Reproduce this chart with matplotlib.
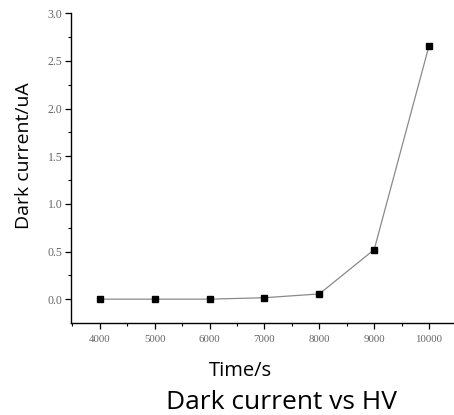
import matplotlib
matplotlib.use("Agg")
import matplotlib.pyplot as plt
from matplotlib.ticker import MultipleLocator

time_s = [4000, 5000, 6000, 7000, 8000, 9000, 10000]
dark_current_uA = [0.0, 0.0, 0.0, 0.015, 0.055, 0.52, 2.66]
x_ticks = [4000, 5000, 6000, 7000, 8000, 9000, 10000]
y_ticks = [0.0, 0.5, 1.0, 1.5, 2.0, 2.5, 3.0]

fig = plt.figure(figsize=(4.54, 4.15), dpi=100)
ax = fig.add_axes([71/454, 1-322.5/415, 1-71/454, (322.5-13.3)/415])

ax.plot(time_s, dark_current_uA, color="#8a8a8a", lw=0.9,
        marker="s", markersize=5, markerfacecolor="black", markeredgecolor="black",
        clip_on=False, zorder=3)

ax.set_xlim(3473, 10455)
ax.set_ylim(-0.245, 3.0)
ax.set_xticks(x_ticks)
ax.set_yticks(y_ticks)
ax.xaxis.set_minor_locator(MultipleLocator(500))
ax.yaxis.set_minor_locator(MultipleLocator(0.25))
ax.set_yticklabels([f"{v:.1f}" for v in y_ticks])

for s in ["top", "right"]:
    ax.spines[s].set_visible(False)
for s in ["left", "bottom"]:
    ax.spines[s].set_linewidth(1.0)
    ax.spines[s].set_color("black")

ax.tick_params(which="major", direction="out", length=4.3, width=0.9, colors="black",
               labelcolor="#666666")
ax.tick_params(axis="x", which="major", labelsize=7.8, pad=5)
ax.tick_params(axis="y", which="major", labelsize=8.5, pad=2)
ax.tick_params(which="minor", direction="out", length=2.5, width=0.8, colors="black")
for lab in ax.get_xticklabels() + ax.get_yticklabels():
    lab.set_fontfamily("Liberation Serif")

label_font = ["Open Sans", "DejaVu Sans"]
fig.text(24/454, 1-156/415, "Dark current/uA", rotation=90, ha="center", va="center",
         fontsize=14, family=label_font, color="black")
fig.text(240/454, 1-376/415, "Time/s", ha="center", va="baseline",
         fontsize=14.5, family=label_font, color="black")
fig.text(282/454, 1-409/415, "Dark current vs HV", ha="center", va="baseline",
         fontsize=19, family=label_font, color="black")

fig.savefig("out.png", dpi=100)
